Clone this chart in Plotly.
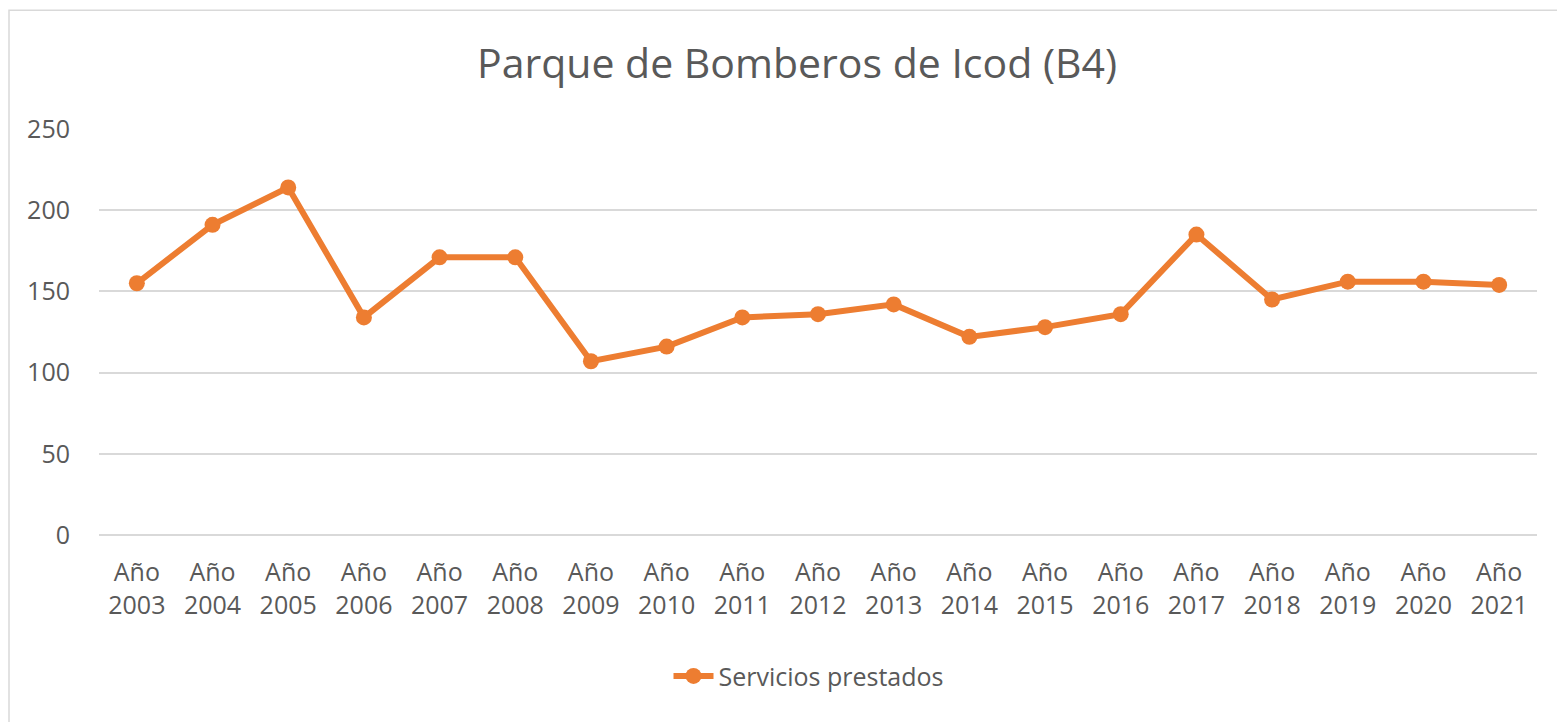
import plotly.graph_objects as go

categories = ["Año<br>2003", "Año<br>2004", "Año<br>2005", "Año<br>2006", "Año<br>2007",
              "Año<br>2008", "Año<br>2009", "Año<br>2010", "Año<br>2011", "Año<br>2012",
              "Año<br>2013", "Año<br>2014", "Año<br>2015", "Año<br>2016", "Año<br>2017",
              "Año<br>2018", "Año<br>2019", "Año<br>2020", "Año<br>2021"]
servicios = [155, 191, 214, 134, 171, 171, 107, 116, 134, 136, 142, 122, 128, 136,
             185, 145, 156, 156, 154]
y_ticks = [0, 50, 100, 150, 200, 250]

OFF = 8  # page body margin
W, H = 1565 - OFF, 722 - OFF
L, R, T, B = 99 - OFF, 1537 - OFF, 128.5 - OFF, 535.5 - OFF
ORANGE = "#ED7D31"
GREY_TXT = "#595959"
FONT = "Open Sans, Lato, DejaVu Sans, sans-serif"

fig = go.Figure()
fig.add_trace(go.Scatter(
    x=categories, y=servicios, mode="lines+markers", name="Servicios prestados",
    line=dict(color=ORANGE, width=6),
    marker=dict(color=ORANGE, size=16),
))

def px_x(p):
    return (p - OFF - L) / (R - L)

def px_y(p):
    return (B - (p - OFF)) / (B - T)

fig.add_shape(type="rect", xref="paper", yref="paper",
              x0=px_x(9), x1=px_x(1580), y0=px_y(740), y1=px_y(9.5),
              line=dict(color="#D9D9D9", width=1.5), fillcolor="rgba(0,0,0,0)",
              layer="below")

fig.update_layout(
    width=W, height=H,
    margin=dict(l=L, r=W - R, t=T, b=H - B, autoexpand=False),
    paper_bgcolor="white", plot_bgcolor="white",
    font=dict(family=FONT, color=GREY_TXT),
    title=dict(text="Parque de Bomberos de Icod (B4)", x=(797 - OFF) / W, xanchor="center",
               xref="container", y=1 - (64 - OFF) / H, yanchor="middle", yref="container",
               font=dict(size=41, color=GREY_TXT, family=FONT)),
    showlegend=True,
    legend=dict(orientation="h", x=px_x(809), xanchor="center", y=px_y(677), yanchor="middle",
                font=dict(size=25, color=GREY_TXT, family=FONT), itemwidth=40,
                bgcolor="rgba(0,0,0,0)"),
    xaxis=dict(type="category", range=[-0.5, len(categories) - 0.5], showgrid=False,
               showline=False, zeroline=False, ticks="",
               tickfont=dict(size=25, color=GREY_TXT), ticklabelstandoff=20, fixedrange=True),
    yaxis=dict(range=[0, 250], tickvals=y_ticks, showgrid=True, gridcolor="#D9D9D9",
               gridwidth=2, zeroline=True, zerolinecolor="#D9D9D9", zerolinewidth=2,
               showline=False, ticks="", tickfont=dict(size=25, color=GREY_TXT),
               ticklabelstandoff=28, fixedrange=True),
)

fig.write_html("out.html")
